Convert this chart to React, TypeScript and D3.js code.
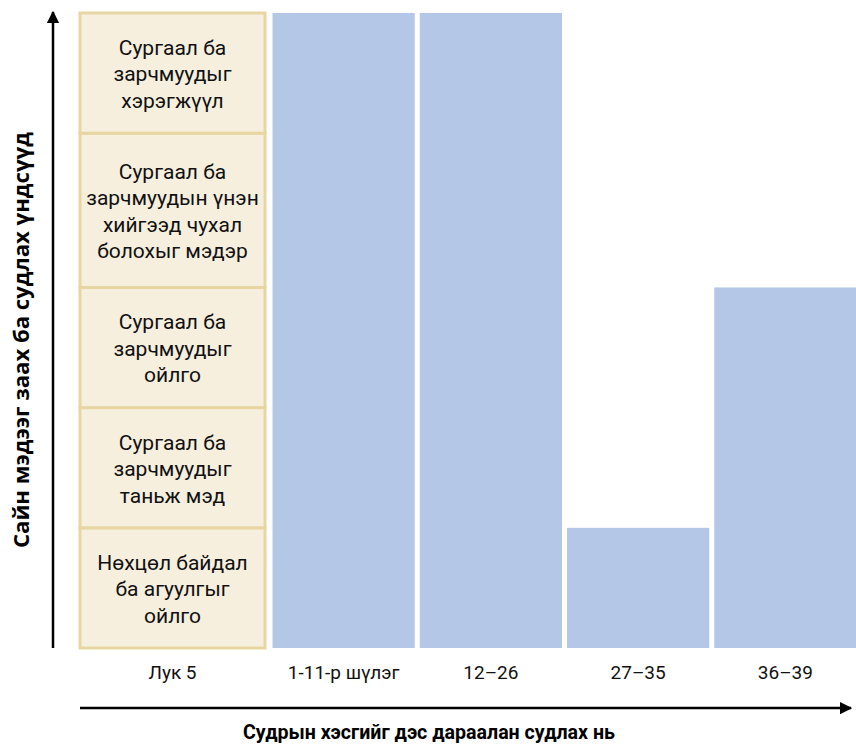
import React from "react";
import * as d3 from "d3";

const levelLabels: string[][] = [
  ["Нөхцөл байдал", "ба агуулгыг", "ойлго"],
  ["Сургаал ба", "зарчмуудыг", "таньж мэд"],
  ["Сургаал ба", "зарчмуудыг", "ойлго"],
  ["Сургаал ба", "зарчмуудын үнэн", "хийгээд чухал", "болохыг мэдэр"],
  ["Сургаал ба", "зарчмуудыг", "хэрэгжүүл"],
];
const firstCategory = "Лук 5";
const barCategories = ["1-11-р шүлэг", "12–26", "27–35", "36–39"];
const barLevels = [5, 5, 1, 3];
const xTitle = "Судрын хэсгийг дэс дараалан судлах нь";
const yTitle = "Сайн мэдээг заах ба судлах үндсүүд";

export default function App() {
  const W = 856, H = 747;
  const top = 13, bottom = 648;
  const font = "Roboto, 'Open Sans', sans-serif";
  const titleFont = "'Open Sans', 'Noto Sans', sans-serif";
  const weights = levelLabels.map((l) => 18 + 34 * l.length);
  const cum = [0, ...d3.cumsum(weights)];
  const total = cum[cum.length - 1];
  const y = d3.scaleLinear().domain([0, total]).range([bottom, top]);
  const x = d3.scaleBand<string>().domain(barCategories).range([270, 859]).paddingInner(0.034).paddingOuter(0.017);
  const boxX0 = 80, boxX1 = 265;
  const lineH = 26.5;
  return (
    <svg width={W} height={H} style={{ position: "absolute", left: 0, top: 0, background: "#fff" }}>
      <defs>
        <marker id="ah" viewBox="0 0 10 10" refX="9" refY="5" markerWidth="5" markerHeight="5.5" orient="auto" markerUnits="strokeWidth">
          <path d="M0,0 L10,5 L0,10 z" fill="#000" />
        </marker>
      </defs>
      {levelLabels.map((lines, i) => {
        const y0 = y(cum[i + 1]);
        const y1 = y(cum[i]);
        const cy = (y0 + y1) / 2 + 1;
        return (
          <g key={i}>
            <rect x={boxX0} y={y0} width={boxX1 - boxX0} height={y1 - y0} fill="#f6efde" stroke="#e8d6a2" strokeWidth={3} />
            {lines.map((t, j) => (
              <text key={j} x={(boxX0 + boxX1) / 2} y={cy + (j - (lines.length - 1) / 2) * lineH} dy="0.35em" textAnchor="middle" fontFamily={font} fontSize={21} fill="#111">
                {t}
              </text>
            ))}
          </g>
        );
      })}
      {barCategories.map((c, i) => (
        <rect key={c} x={x(c)} y={y(cum[barLevels[i]])} width={x.bandwidth()} height={y(0) - y(cum[barLevels[i]])} fill="#b4c7e7" />
      ))}
      <text x={(boxX0 + boxX1) / 2} y={672} dy="0.35em" textAnchor="middle" fontFamily={font} fontSize={19} fill="#111">{firstCategory}</text>
      {barCategories.map((c) => (
        <text key={c} x={(x(c) as number) + x.bandwidth() / 2} y={672} dy="0.35em" textAnchor="middle" fontFamily={font} fontSize={19} fill="#111">{c}</text>
      ))}
      <line x1={53} y1={648} x2={53} y2={12} stroke="#000" strokeWidth={2.5} markerEnd="url(#ah)" />
      <line x1={80} y1={708} x2={851} y2={708} stroke="#000" strokeWidth={2.5} markerEnd="url(#ah)" />
      <text x={429} y={732} dy="0.35em" textAnchor="middle" fontFamily={font} fontSize={21} fontWeight="bold" fill="#000" textLength={372} lengthAdjust="spacingAndGlyphs">{xTitle}</text>
      <text transform={`translate(22,340) rotate(-90)`} dy="0.35em" textAnchor="middle" fontFamily={titleFont} fontSize={21} fontWeight="bold" fill="#000" textLength={416} lengthAdjust="spacingAndGlyphs">{yTitle}</text>
    </svg>
  );
}
